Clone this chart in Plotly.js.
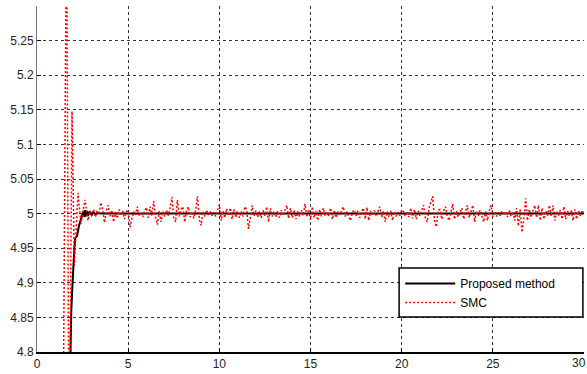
<!DOCTYPE html>
<html>
<head>
<meta charset="utf-8">
<script src="https://cdn.plot.ly/plotly-3.0.1.min.js"></script>
<style>html,body{margin:0;padding:0;background:#fff;}#chart{width:587px;height:374px;}</style>
</head>
<body>
<div id="chart"></div>
<script>
// Proposed method (black)
const propTime = [1.70, 1.88, 1.95, 2.00, 2.05, 2.10, 2.20, 2.30, 2.40, 2.50, 2.55, 2.60, 2.65, 2.70, 2.75, 2.80, 2.90, 3.00, 3.10, 3.20, 3.30, 3.50, 4.0, 5.0, 10.0, 15.0, 20.0, 25.0, 30.0];
const propValues = [4.60, 4.86, 4.90, 4.93, 4.95, 4.965, 4.968, 4.982, 4.99, 4.998, 5.004, 4.995, 5.005, 4.996, 5.004, 4.997, 5.003, 4.998, 5.002, 4.999, 5.001, 5.000, 5.000, 5.000, 5.000, 5.000, 5.000, 5.000, 5.000];

// SMC (red dotted): transient part
const smcTransientTime = [1.40, 1.62, 1.76, 1.92, 2.05, 2.25, 2.41, 2.63, 2.80];
const smcTransientValues = [4.55, 5.45, 4.60, 5.148, 4.925, 5.030, 4.985, 5.020, 4.990];
// SMC chattering part, sampled every 0.1 s from t = 2.9 to 30.0
const smcChatterStart = 2.9;
const smcChatterStep = 0.1;
const smcChatterValues = [
 5.004,
 4.997,5.006,4.995,5.004,4.998,5.016,5.006,4.987,5.003,5.012,
 4.996,5.005,4.988,5.002,4.993,5.006,4.997,5.004,4.992,5.003,
 5.005,4.980,4.992,5.003,4.998,5.010,4.996,5.002,4.995,5.004,
 5.009,4.994,5.010,4.997,5.018,4.995,4.984,5.004,4.988,5.003,
 4.996,5.005,4.997,5.008,5.024,4.994,4.988,5.020,4.996,5.006,
 5.010,4.988,5.004,5.010,4.995,5.003,4.993,5.005,5.025,4.992,
 4.983,5.003,4.996,5.005,4.998,5.003,4.997,5.002,4.996,5.005,
 5.013,4.990,5.004,4.994,5.007,4.997,5.008,4.992,5.006,4.995,
 5.004,4.994,5.003,4.996,5.010,5.006,4.978,4.994,5.012,4.997,
 5.004,4.995,5.003,4.994,5.005,4.997,5.010,4.988,5.008,4.996,
 5.003,4.995,5.004,4.994,5.005,4.997,5.004,5.012,4.993,5.008,
 4.994,5.005,4.992,5.003,4.996,5.005,4.997,5.014,4.995,5.006,
 4.991,5.010,4.994,5.004,4.990,5.006,4.996,5.008,4.997,5.002,
 4.996,5.008,4.992,5.005,4.994,5.003,4.998,5.004,5.010,4.996,
 5.003,4.995,4.990,5.002,5.005,4.997,5.004,4.994,5.003,5.008,
 4.992,5.009,4.990,5.004,4.997,5.005,4.996,5.003,5.010,4.995,
 5.004,4.988,5.003,4.995,5.004,4.990,5.003,4.996,5.002,4.997,
 5.005,5.003,4.996,5.003,4.995,5.008,4.993,5.006,4.992,5.004,
 4.997,5.005,5.012,4.994,4.988,5.008,5.015,5.025,4.990,4.981,
 5.005,5.006,4.992,5.004,5.010,4.996,4.990,5.005,5.014,4.992,
 5.004,4.995,5.003,5.008,4.992,5.004,5.012,4.994,5.005,5.012,
 4.988,5.004,4.997,5.005,4.996,4.988,5.003,4.990,5.004,5.012,
 4.995,5.003,4.996,5.002,4.997,5.004,4.998,5.003,4.995,5.005,
 4.996,5.003,4.990,5.008,4.982,5.006,4.973,4.992,5.022,4.990,
 5.006,4.995,5.004,5.012,4.994,5.012,4.990,5.008,4.992,5.004,
 4.997,5.012,4.996,5.012,4.990,5.004,4.997,5.005,4.992,5.010,
 4.992,5.004,4.997,5.005,4.990,5.006,4.992,5.004,4.997,5.005,
 4.998
];

const xTickValues = [0, 5, 10, 15, 20, 25, 30];
const xTickLabels = ['0', '5', '10', '15', '20', '25', '30'];
const yTickValues = [4.8, 4.85, 4.9, 4.95, 5, 5.05, 5.1, 5.15, 5.2, 5.25];
const yTickLabels = ['4.8', '4.85', '4.9', '4.95', '5', '5.05', '5.1', '5.15', '5.2', '5.25'];
const seriesNames = ['Proposed method', 'SMC'];

const smcTime = smcTransientTime.slice();
const smcValues = smcTransientValues.slice();
smcChatterValues.forEach((v, i) => {
  smcTime.push(+(smcChatterStart + i * smcChatterStep).toFixed(2));
  smcValues.push(v);
});

const traces = [
  {x: propTime, y: propValues, type: 'scatter', mode: 'lines', name: seriesNames[0],
   line: {color: '#000000', width: 2}},
  {x: smcTime, y: smcValues, type: 'scatter', mode: 'lines', name: seriesNames[1],
   line: {color: '#ff0000', width: 1.5, dash: '2px,2px'}}
];

const fontFamily = 'Liberation Sans, Arial, sans-serif';
const axisFont = {family: fontFamily, size: 12, color: '#222'};
const lastX = xTickValues.length - 1;

const layout = {
  width: 587, height: 374,
  margin: {l: 37, r: 3, t: 6, b: 22, pad: 0},
  paper_bgcolor: '#ffffff', plot_bgcolor: '#ffffff',
  showlegend: true,
  xaxis: {
    range: [0, 30], tickvals: xTickValues,
    ticktext: xTickLabels.map((t, i) => i === lastX ? '' : t),
    showgrid: true, gridcolor: '#333', griddash: '3px,3px', gridwidth: 1,
    zeroline: false, showline: true, linecolor: '#000', linewidth: 1.5,
    ticks: 'inside', ticklen: 4, tickcolor: '#000', tickfont: axisFont
  },
  yaxis: {
    range: [4.8, 5.3], tickvals: yTickValues, ticktext: yTickLabels,
    showgrid: true, gridcolor: '#333', griddash: '3px,3px', gridwidth: 1,
    zeroline: false, showline: true, linecolor: '#777', linewidth: 1,
    ticks: 'inside', ticklen: 4, tickcolor: '#000', tickfont: axisFont
  },
  annotations: [{
    xref: 'x', yref: 'paper', x: xTickValues[lastX], y: 0, yshift: -2, xshift: -5,
    xanchor: 'center', yanchor: 'top', showarrow: false,
    text: xTickLabels[lastX], font: axisFont
  }],
  shapes: [{
    type: 'rect', xref: 'paper', yref: 'paper', layer: 'above',
    x0: 0.662, x1: 0.998, y0: 0.101, y1: 0.243,
    fillcolor: '#ffffff', line: {color: '#000', width: 1.5}
  }],
  legend: {
    x: 0.664, y: 0.240, xanchor: 'left', yanchor: 'top',
    bgcolor: 'rgba(0,0,0,0)', borderwidth: 0,
    font: {family: fontFamily, size: 12, color: '#000'},
    tracegroupgap: 0, itemwidth: 50
  }
};

Plotly.newPlot('chart', traces, layout, {displayModeBar: false, staticPlot: true});
</script>
</body>
</html>
